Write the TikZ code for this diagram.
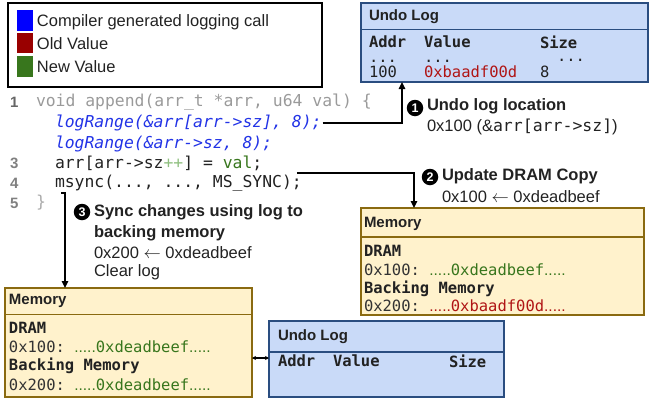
\documentclass[tikz,border=0pt]{standalone}
\usepackage{fontspec}
\setmainfont{Liberation Sans}
\setmonofont{DejaVu Sans Mono}
\usetikzlibrary{arrows.meta}
\definecolor{logfill}{HTML}{C9DAF8}
\definecolor{logborder}{HTML}{2A4D80}
\definecolor{memfill}{HTML}{FFF2CC}
\definecolor{memborder}{HTML}{8A6A10}
\definecolor{oldred}{HTML}{B01515}
\definecolor{newgreen}{HTML}{38761D}
\definecolor{legblue}{HTML}{0000FF}
\definecolor{legred}{HTML}{990000}
\definecolor{codeblue}{HTML}{2233E6}
\definecolor{codegray}{HTML}{9A9A9A}
\definecolor{lightgray}{HTML}{AAAAAA}
\definecolor{ppgreen}{HTML}{8FBF7F}
\definecolor{ink}{HTML}{222222}
\definecolor{addrgray}{HTML}{333333}
\newcommand{\mydots}{{\rmfamily .....}}
\newcommand{\larr}{ $\leftarrow$ }
\begin{document}
\begin{tikzpicture}[x=1pt,y=-1pt,
  every node/.style={inner sep=0pt, outer sep=0pt, text=ink},
  lbl/.style={anchor=west, font=\fontsize{16.5}{19}\selectfont},
  lblb/.style={anchor=west, font=\fontsize{16.5}{19}\selectfont\bfseries},
  code/.style={anchor=west, font=\fontsize{16.4}{19}\ttfamily},
  lnum/.style={anchor=west, font=\fontsize{15}{18}\selectfont\bfseries},
  bx/.style={anchor=west, font=\fontsize{15.5}{18}\ttfamily},
  bxb/.style={anchor=west, font=\fontsize{15.5}{18}\ttfamily\bfseries},
  hdr/.style={anchor=west, font=\fontsize{15}{17}\selectfont\bfseries},
  logbox/.style={draw=logborder, fill=logfill, line width=1.3pt, anchor=north west},
  membox/.style={draw=memborder, fill=memfill, line width=1.3pt, anchor=north west},
  arr/.style={line width=1.4pt, -{Triangle[length=7pt,width=6.5pt]}},
  num/.style={circle, fill=black, text=white, minimum size=16.5pt, font=\fontsize{12.5}{12.5}\selectfont\bfseries}
]
\useasboundingbox (0,0) rectangle (649,402);

% legend
\node[draw=black, line width=1.3pt, minimum width=314pt, minimum height=84pt, anchor=north west] (legend) at (8,3) {};
\node[fill=legblue, minimum width=16pt, minimum height=21pt, anchor=north west] (sqb) at (17,10) {};
\node[fill=legred, minimum width=16pt, minimum height=20pt, anchor=north west] (sqr) at (17,33) {};
\node[fill=newgreen, minimum width=16pt, minimum height=21pt, anchor=north west] (sqg) at (17,56) {};
\node[lbl] (lgb) at (37,22) {Compiler generated logging call};
\node[lbl] (lgr) at (37,44) {Old Value};
\node[lbl] (lgg) at (37,67) {New Value};

% undo log (top)
\node[logbox, minimum width=287pt, minimum height=79pt] (ulog) at (361,3) {};
\draw[logborder, line width=1.3pt] (361,29.5) -- (648,29.5);
\node[hdr] (ulh) at (369,17) {Undo Log};
\node[bxb] (ua) at (369,42) {Addr};
\node[bxb] (uv) at (424,42) {Value};
\node[bxb] (us) at (540,42) {Size};
\node[bx] (ud1) at (369,61) {...};
\node[bx] (ud2) at (424,61) {...};
\node[bx] (ud3) at (557,60) {...};
\node[bx] (ua1) at (369,72) {100};
\node[bx, text=oldred] (uv1) at (424,72) {0xbaadf00d};
\node[bx] (us1) at (540,72) {8};

% code
\node[lnum, text=gray!120] (n1) at (10,102) {1};
\node[code, text=codegray] (l1) at (36,102) {void append(arr\_t *arr, u64 val) \{};
\node[code, text=codeblue, font=\fontsize{16.4}{19}\ttfamily\itshape] (l2) at (55,123) {logRange(\&arr[arr->sz], 8);};
\node[code, text=codeblue, font=\fontsize{16.4}{19}\ttfamily\itshape] (l3) at (55,144) {logRange(\&arr->sz, 8);};
\node[lnum, text=gray] (n3) at (10,163) {3};
\node[code] (l4) at (55,163) {arr[arr->sz\textcolor{ppgreen}{++}] = \textcolor{newgreen}{val};};
\node[lnum, text=gray] (n4) at (10,183) {4};
\node[code] (l5) at (55,183) {msync(..., ..., MS\_SYNC);};
\node[lnum, text=gray] (n5) at (10,203) {5};
\node[code, text=lightgray] (l6) at (36,203) {\}};

% memory (upper right)
\node[membox, minimum width=283pt, minimum height=107pt] (memu) at (361,208) {};
\draw[memborder, line width=1.3pt] (361,237) -- (644,237);
\node[hdr] (muh) at (364,224) {Memory};
\node[bxb] (mud) at (364,251) {DRAM};
\node[bx, text=addrgray] (mu1) at (364,270) {0x100: \textcolor{newgreen}{\mydots 0xdeadbeef\mydots}};
\node[bxb] (mub) at (364,289) {Backing Memory};
\node[bx, text=addrgray] (mu2) at (364,306) {0x200: \textcolor{oldred}{\mydots 0xbaadf00d\mydots}};

% memory (lower left)
\node[membox, minimum width=247pt, minimum height=109pt] (meml) at (5,288) {};
\draw[memborder, line width=1.3pt] (5,314.5) -- (252,314.5);
\node[hdr] (mlh) at (9,301) {Memory};
\node[bxb] (mld) at (9,328) {DRAM};
\node[bx, text=addrgray] (ml1) at (9,347) {0x100: \textcolor{newgreen}{\mydots 0xdeadbeef\mydots}};
\node[bxb] (mlb) at (9,366) {Backing Memory};
\node[bx, text=addrgray] (ml2) at (9,385) {0x200: \textcolor{newgreen}{\mydots 0xdeadbeef\mydots}};

% undo log (lower)
\node[logbox, minimum width=235pt, minimum height=76pt] (ulog2) at (269,321) {};
\draw[logborder, line width=1.3pt] (269,352) -- (504,352);
\node[hdr] (ul2h) at (278,337) {Undo Log};
\node[bxb] (ul2a) at (278,361) {Addr};
\node[bxb] (ul2v) at (333,361) {Value};
\node[bxb] (ul2s) at (449,361) {Size};

% connector memory <-> undo log
\coordinate (cl) at ([yshift=-15.5pt]meml.east);
\draw[line width=1.3pt, {Stealth[length=4pt,width=4pt]}-{Stealth[length=4pt,width=4pt]}] (cl) -- (cl -| ulog2.west);

% arrows
\coordinate (u1) at ([xshift=41pt]ulog.south west);
\draw[arr] ([xshift=1pt]l2.east) -| (u1);
\coordinate (a2s) at ([xshift=-5pt,yshift=2pt]l5.north east);
\coordinate (m1) at ([xshift=53pt]memu.north west);
\draw[arr] (a2s) -| (m1);
\coordinate (a3s) at (61,193);
\coordinate (m2) at ([xshift=60pt]meml.north west);
\draw[arr] (a3s) -| (m2);

% annotations
\node[num] (c1) at (415,108) {1};
\node[lblb] (t1) at (427,106) {Undo log location};
\node[lbl] (t1b) at (427,127) {0x100 (\&{\ttfamily arr[arr->sz]})};
\node[num] (c2) at (430,177) {2};
\node[lblb] (t2) at (442,176) {Update DRAM Copy};
\node[lbl] (t2b) at (442,197) {0x100\larr 0xdeadbeef};
\node[num] (c3) at (82,212) {3};
\node[lblb] (t3) at (94,212) {Sync changes using log to};
\node[lblb] (t3b) at (94,233) {backing memory};
\node[lbl] (t3c) at (94,253) {0x200\larr 0xdeadbeef};
\node[lbl] (t3d) at (94,272) {Clear log};
\end{tikzpicture}
\end{document}
